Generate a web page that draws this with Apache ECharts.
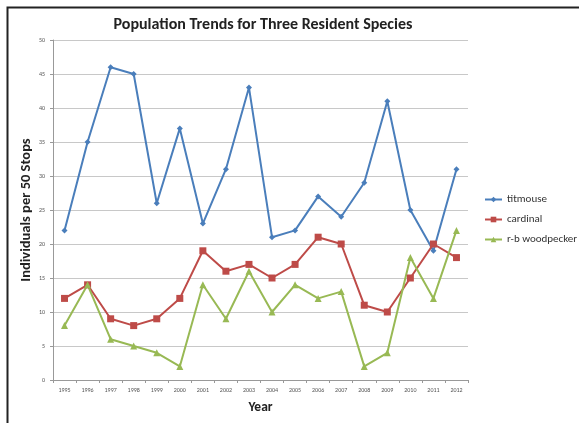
<!DOCTYPE html>
<html>
<head>
<meta charset="utf-8">
<script src="https://cdn.jsdelivr.net/npm/echarts@6/dist/echarts.min.js"></script>
<style>
html,body{margin:0;padding:0;background:#fff;}
#chart{width:579px;height:423px;}
</style>
</head>
<body>
<div id="chart"></div>
<script>
// Survey years and counts per species
const years = ['1995','1996','1997','1998','1999','2000','2001','2002','2003','2004','2005','2006','2007','2008','2009','2010','2011','2012'];
const titmouse = [22,35,46,45,26,37,23,31,43,21,22,27,24,29,41,25,19,31];
const cardinal = [12,14,9,8,9,12,19,16,17,15,17,21,20,11,10,15,20,18];
const woodpecker = [8,14,6,5,4,2,14,9,16,10,14,12,13,2,4,18,12,22];
const seriesNames = ['titmouse','cardinal','r-b woodpecker'];

const font = 'Calibri, Carlito, "Open Sans", "DejaVu Sans", sans-serif';
const chart = echarts.init(document.getElementById('chart'));

function line(name, data, color, symbol, size) {
  return {
    name, type: 'line', data,
    symbol, symbolSize: size,
    lineStyle: { color, width: 2 },
    itemStyle: { color },
    emphasis: { disabled: true }
  };
}

chart.setOption({
  animation: false,
  backgroundColor: '#fff',
  title: {
    text: 'Population Trends for Three Resident Species',
    left: 258, top: 12, textAlign: 'center',
    textStyle: { fontFamily: font, fontSize: 16, fontWeight: 'bold', color: '#222' }
  },
  graphic: [{
    type: 'rect', left: 5, top: 5,
    shape: { width: 600, height: 440 },
    style: { fill: 'none', stroke: '#222', lineWidth: 2 }
  }],
  legend: {
    orient: 'vertical', left: 479, top: 189, itemGap: 9,
    itemWidth: 17, itemHeight: 7,
    textStyle: { fontFamily: font, fontSize: 11, color: '#333' },
    data: seriesNames
  },
  grid: { left: 53, top: 40, width: 415, height: 340, containLabel: false },
  xAxis: {
    type: 'category', data: years, boundaryGap: true,
    name: 'Year', nameLocation: 'middle', nameGap: 21, nameMoveOverlap: false,
    nameTextStyle: { fontFamily: font, fontSize: 13.5, fontWeight: 'bold', color: '#222' },
    axisLine: { lineStyle: { color: '#999' } },
    axisTick: { show: true, length: 3, lineStyle: { color: '#999' } },
    axisLabel: { fontFamily: font, fontSize: 6, color: '#555', margin: 7, interval: 0 }
  },
  yAxis: {
    type: 'value', min: 0, max: 50, interval: 5,
    name: 'Individuals per 50 Stops', nameLocation: 'middle', nameGap: 19, nameMoveOverlap: false,
    nameTextStyle: { fontFamily: font, fontSize: 14.5, fontWeight: 'bold', color: '#222' },
    axisLine: { show: true, lineStyle: { color: '#999' } },
    axisTick: { show: true, length: 3, lineStyle: { color: '#999' } },
    axisLabel: { fontFamily: font, fontSize: 6, color: '#555', margin: 8 },
    splitLine: { lineStyle: { color: '#c8c8c8', width: 1 } }
  },
  series: [
    line(seriesNames[0], titmouse, '#4a7ebb', 'diamond', 6),
    line(seriesNames[1], cardinal, '#be4b48', 'rect', 7),
    line(seriesNames[2], woodpecker, '#98b954', 'triangle', 7)
  ]
});
</script>
</body>
</html>
